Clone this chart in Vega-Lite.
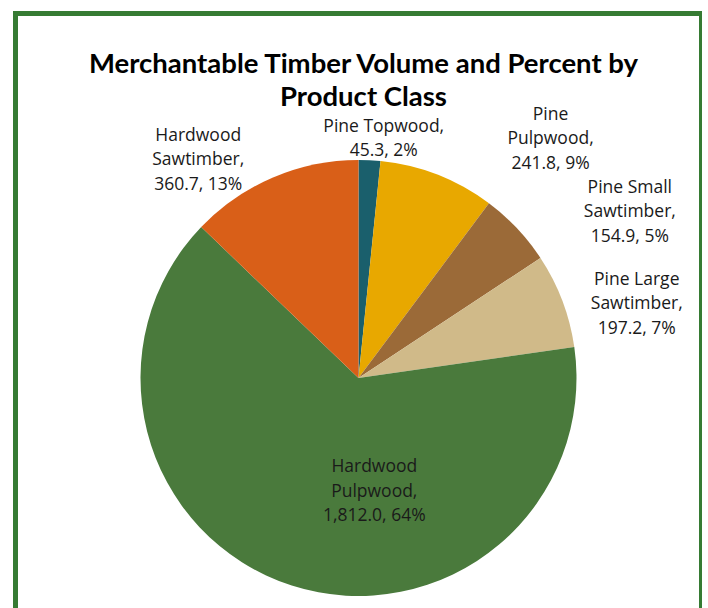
{
  "$schema": "https://vega.github.io/schema/vega-lite/v6.json",
  "width": 686,
  "height": 729,
  "autosize": {"type": "none"},
  "padding": {"left": 15.5, "top": 13.5, "right": 0, "bottom": 0},
  "background": "white",
  "view": {"stroke": "#367b33", "strokeWidth": 5, "fill": "white"},
  "title": {
    "text": ["Merchantable Timber Volume and Percent by", "Product Class"],
    "font": "Lato",
    "fontSize": 27.5,
    "fontWeight": "bold",
    "color": "#000000",
    "offset": -98,
    "lineHeight": 33,
    "dx": 5
  },
  "data": {
    "values": [
      {"idx": 1, "name": "Pine Topwood", "value": 45.3, "label": ["Pine Topwood,", "45.3, 2%"]},
      {"idx": 2, "name": "Pine Pulpwood", "value": 241.8, "label": ["Pine", "Pulpwood,", "241.8, 9%"]},
      {"idx": 3, "name": "Pine Small Sawtimber", "value": 154.9, "label": ["Pine Small", "Sawtimber,", "154.9, 5%"]},
      {"idx": 4, "name": "Pine Large Sawtimber", "value": 197.2, "label": ["Pine Large", "Sawtimber,", "197.2, 7%"]},
      {"idx": 5, "name": "Hardwood Pulpwood", "value": 1812.0, "label": ["Hardwood", "Pulpwood,", "1,812.0, 64%"]},
      {"idx": 6, "name": "Hardwood Sawtimber", "value": 360.7, "label": ["Hardwood", "Sawtimber,", "360.7, 13%"]}
    ]
  },
  "encoding": {
    "theta": {"field": "value", "type": "quantitative", "stack": true},
    "order": {"field": "idx", "type": "quantitative"}
  },
  "layer": [
    {
      "mark": {"type": "arc", "radius": 218},
      "encoding": {
        "color": {
          "field": "name",
          "type": "nominal",
          "scale": {
            "domain": ["Pine Topwood", "Pine Pulpwood", "Pine Small Sawtimber", "Pine Large Sawtimber", "Hardwood Pulpwood", "Hardwood Sawtimber"],
            "range": ["#1a5f6c", "#e8a800", "#9b6a38", "#d0ba89", "#4a7a3c", "#d95f18"]
          },
          "legend": null
        }
      }
    },
    {
      "mark": {"type": "text", "radius": 242, "dx": 13, "dy": -9, "font": "Open Sans", "fontSize": 17.5, "lineHeight": 24, "color": "#1a1a1a", "align": "center", "baseline": "middle"},
      "encoding": {"detail": {"field": "name"}, "text": {"condition": {"test": "datum.name === 'Pine Topwood'", "field": "label"}, "value": ""}}
    },
    {
      "mark": {"type": "text", "radius": 306, "dx": 81, "dy": 22, "font": "Open Sans", "fontSize": 17.5, "lineHeight": 24.5, "color": "#1a1a1a", "align": "center", "baseline": "middle"},
      "encoding": {"detail": {"field": "name"}, "text": {"condition": {"test": "datum.name === 'Pine Pulpwood'", "field": "label"}, "value": ""}}
    },
    {
      "mark": {"type": "text", "radius": 318, "dx": 40, "dy": 28, "font": "Open Sans", "fontSize": 17.5, "lineHeight": 24.5, "color": "#1a1a1a", "align": "center", "baseline": "middle"},
      "encoding": {"detail": {"field": "name"}, "text": {"condition": {"test": "datum.name === 'Pine Small Sawtimber'", "field": "label"}, "value": ""}}
    },
    {
      "mark": {"type": "text", "radius": 288, "dx": 9, "dy": 4, "font": "Open Sans", "fontSize": 17.5, "lineHeight": 24.5, "color": "#1a1a1a", "align": "center", "baseline": "middle"},
      "encoding": {"detail": {"field": "name"}, "text": {"condition": {"test": "datum.name === 'Pine Large Sawtimber'", "field": "label"}, "value": ""}}
    },
    {
      "mark": {"type": "text", "radius": 115, "dx": 51, "dy": -20, "font": "Open Sans", "fontSize": 17.5, "lineHeight": 24.5, "color": "#1a1a1a", "align": "center", "baseline": "middle"},
      "encoding": {"detail": {"field": "name"}, "text": {"condition": {"test": "datum.name === 'Hardwood Pulpwood'", "field": "label"}, "value": ""}}
    },
    {
      "mark": {"type": "text", "radius": 271, "dx": -54, "dy": 7, "font": "Open Sans", "fontSize": 17.5, "lineHeight": 24.5, "color": "#1a1a1a", "align": "center", "baseline": "middle"},
      "encoding": {"detail": {"field": "name"}, "text": {"condition": {"test": "datum.name === 'Hardwood Sawtimber'", "field": "label"}, "value": ""}}
    }
  ]
}
